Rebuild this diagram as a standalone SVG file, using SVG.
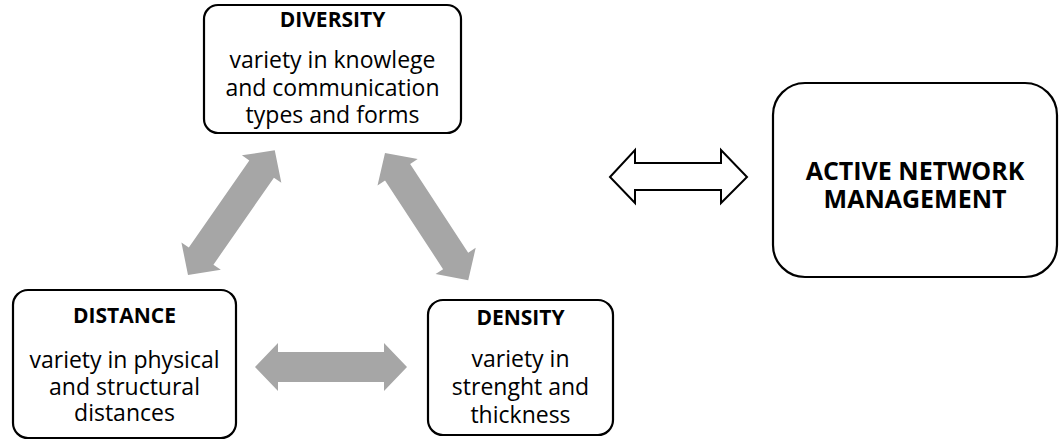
<svg xmlns="http://www.w3.org/2000/svg" xmlns:xlink="http://www.w3.org/1999/xlink" width="1059" height="441" viewBox="0 0 1059 441">
  <style>
    .box { fill: #ffffff; stroke: #000000; stroke-width: 2.2; }
    .title { font-family: "Open Sans", "Liberation Sans", sans-serif; font-weight: bold; font-size: 21px; fill: #000000; text-anchor: middle; }
    .body { font-family: "Open Sans", "Liberation Sans", sans-serif; font-size: 23px; fill: #000000; text-anchor: middle; }
    .big { font-family: "Open Sans", "Liberation Sans", sans-serif; font-weight: bold; font-size: 25px; fill: #000000; text-anchor: middle; }
    .gray { fill: #a6a6a6; }
    .hollow { fill: #ffffff; stroke: #000000; stroke-width: 2; stroke-linejoin: miter; }
  </style>
  <defs>
    <!-- two-headed block arrow laid along the x axis, 152 long -->
    <polygon id="dbl" points="0,0 23,-24 23,-15 129,-15 129,-24 152,0 129,24 129,15 23,15 23,24"/>
  </defs>

  <g id="connectors">
    <use xlink:href="#dbl" class="gray" transform="translate(188,275) rotate(-55.2)"/>
    <use xlink:href="#dbl" class="gray" transform="translate(385,153) rotate(56.8)"/>
    <use xlink:href="#dbl" class="gray" transform="translate(255,367)"/>
    <polygon class="hollow" points="610,177 635,150 635,163 721,163 721,150 747,177 721,203 721,190 635,190 635,203"/>
  </g>

  <g id="diversity">
    <rect class="box" x="204" y="5" width="257" height="128" rx="14"/>
    <text class="title" x="332.5" y="27">DIVERSITY</text>
    <text class="body" x="332.5" y="68">variety in knowlege</text>
    <text class="body" x="332.5" y="96">and communication</text>
    <text class="body" x="332.5" y="123">types and forms</text>
  </g>

  <g id="distance">
    <rect class="box" x="13" y="290" width="223" height="148" rx="15"/>
    <text class="title" x="124.5" y="323">DISTANCE</text>
    <text class="body" x="124.5" y="368">variety in physical</text>
    <text class="body" x="124.5" y="395">and structural</text>
    <text class="body" x="124.5" y="421">distances</text>
  </g>

  <g id="density">
    <rect class="box" x="428" y="300" width="185" height="135" rx="15"/>
    <text class="title" x="520.5" y="325">DENSITY</text>
    <text class="body" x="520.5" y="367">variety in</text>
    <text class="body" x="520.5" y="395">strenght and</text>
    <text class="body" x="520.5" y="423">thickness</text>
  </g>

  <g id="active-network-management">
    <rect class="box" x="773" y="83" width="284" height="194" rx="32"/>
    <text class="big" x="915" y="180">ACTIVE NETWORK</text>
    <text class="big" x="915" y="208">MANAGEMENT</text>
  </g>
</svg>
